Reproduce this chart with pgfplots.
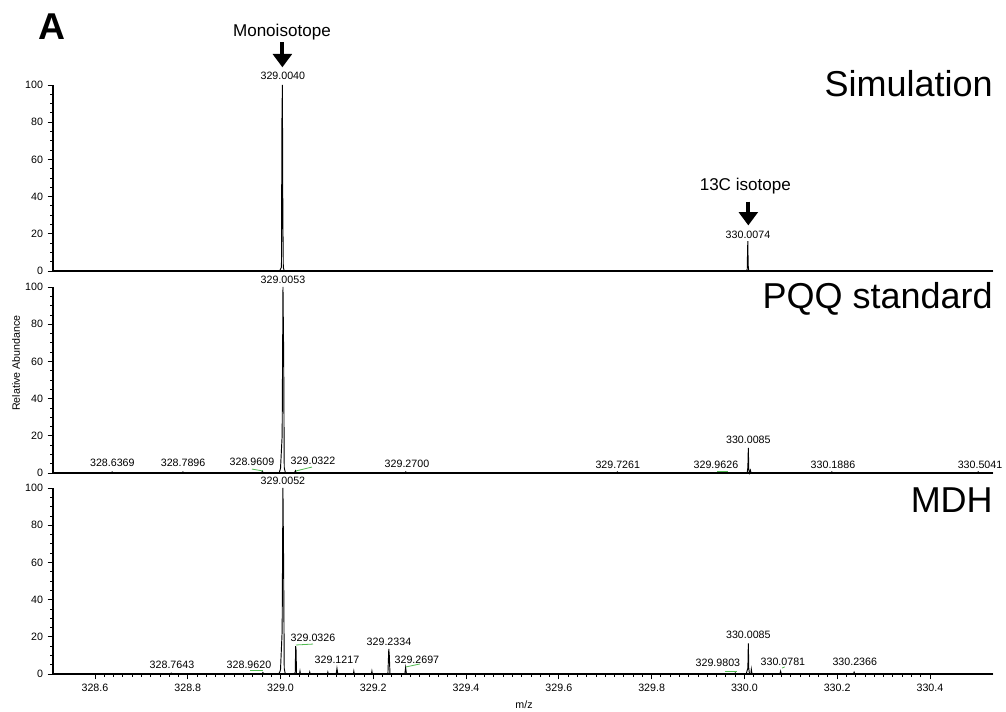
\documentclass[border=0pt]{standalone}
\usepackage{pgfplots}
\pgfplotsset{compat=1.18}
\usepackage{fontspec}
\setmainfont{Liberation Sans}
\usetikzlibrary{arrows.meta}
\definecolor{lg}{RGB}{80,185,80}
\pgfplotsset{
 spec/.style={
  scale only axis, width=705pt, height=139.5pt,
  xmin=328.5095, xmax=330.536, ymin=0, ymax=100,
  axis x line*=bottom, axis y line*=left,
  axis line style={line width=1.2pt},
  ytick={0,20,40,60,80,100}, minor y tick num=3,
  tick style={black, line width=0.6pt},
  tick align=outside,
  major tick length=4pt, minor tick length=2.2pt,
  clip=false,
  ticklabel style={font=\fontsize{8}{9}\selectfont},
  /pgf/number format/assume math mode=true,
 },
}
\tikzset{
 lbl/.style={font=\fontsize{8}{9}\selectfont, inner sep=0pt},
 big/.style={font=\fontsize{27}{30}\selectfont, inner sep=0pt, anchor=east},
 ann/.style={font=\fontsize{12.8}{14}\selectfont, inner sep=0pt},
}
\begin{document}
\begin{tikzpicture}
\useasboundingbox (0,0) rectangle (754.5pt,533.25pt);
% ---------------- Simulation ----------------
\begin{axis}[spec, at={(39.75pt,330pt)}, anchor=south west, xtick=\empty]
\addplot[black, line width=0.7pt] table {
328.5095 0
328.9980 0
329.0020 2
329.0030 80
329.0040 100
329.0050 30
329.0060 2
329.0080 0
330.0040 0
330.0062 1
330.0068 10
330.0074 16
330.0082 3
330.0095 0
330.5360 0
};
\node[lbl] at (axis cs:329.005,104.9) {329.0040};
\node[lbl] at (axis cs:330.0077,19.5) {330.0074};
\draw[-{Triangle[width=14pt,length=10pt]}, line width=3pt] (axis cs:329.004,123) -- (axis cs:329.004,109.5);
\node[ann] at (axis cs:329.003,128.6) {Monoisotope};
\draw[-{Triangle[width=14pt,length=10pt]}, line width=3pt] (axis cs:330.0085,37.3) -- (axis cs:330.0085,24.5);
\node[ann] at (axis cs:330.0020,45.4) {13C isotope};
\node[big] at (rel axis cs:1,1.005) {Simulation};
\end{axis}
% ---------------- PQQ standard ----------------
\begin{axis}[spec, at={(39.75pt,178.5pt)}, anchor=south west, xtick=\empty]
\addplot[black, line width=0.7pt] table {
328.5095 0
328.6350 0
328.6369 0.6
328.6390 0
328.7880 0
328.7896 0.6
328.7910 0
328.9590 0
328.9609 1
328.9630 0
328.9970 0
329.0000 2.5
329.0035 20
329.0053 100
329.0068 63
329.0080 3
329.0105 0
329.0300 0
329.0322 1.2
329.0340 0
329.2680 0
329.2700 0.6
329.2720 0
329.7240 0
329.7261 0.6
329.7280 0
329.9610 0
329.9626 0.6
329.9640 0
330.0060 0
330.0075 3
330.0085 13.5
330.0095 2
330.0110 0
330.0130 1.5
330.0145 0
330.1870 0
330.1886 0.6
330.1900 0
330.5020 0
330.5041 0.6
330.5060 0
330.5360 0
};
\node[lbl] at (axis cs:329.0053,103.7) {329.0053};
\node[lbl] at (axis cs:328.6375,5.3) {328.6369};
\node[lbl] at (axis cs:328.790,5.3) {328.7896};
\node[lbl] at (axis cs:328.9384,5.9) {328.9609};
\node[lbl] at (axis cs:329.070,6.4) {329.0322};
\node[lbl] at (axis cs:329.2726,4.8) {329.2700};
\node[lbl] at (axis cs:329.727,4.3) {329.7261};
\node[lbl] at (axis cs:329.9387,4.3) {329.9626};
\node[lbl] at (axis cs:330.0085,17.6) {330.0085};
\node[lbl] at (axis cs:330.191,4.3) {330.1886};
\node[lbl] at (axis cs:330.508,4.3) {330.5041};
\draw[lg, line width=0.6pt] (axis cs:328.9384,2.1) -- (axis cs:328.9621,1.1);
\draw[lg, line width=0.6pt] (axis cs:329.0333,1.1) -- (axis cs:329.0678,3.2);
\draw[lg, line width=0.6pt] (axis cs:329.9408,1.1) -- (axis cs:329.9645,1.1);
\node[big] at (rel axis cs:1,0.936) {PQQ standard};
\end{axis}
% ---------------- MDH ----------------
\begin{axis}[spec, at={(39.75pt,27.75pt)}, anchor=south west,
  xtick={328.6,328.8,329.0,329.2,329.4,329.6,329.8,330.0,330.2,330.4},
  xticklabels={328.6,328.8,329.0,329.2,329.4,329.6,329.8,330.0,330.2,330.4},
  minor x tick num=9]
\addplot[black, line width=0.7pt] table {
328.5095 0
328.7620 0
328.7643 0.5
328.7660 0
328.9600 0
328.9620 0.8
328.9640 0
328.9960 0
328.9990 1.5
329.0000 2.5
329.0035 23
329.0052 100
329.0067 59
329.0080 3
329.0095 1
329.0105 0
329.0300 0
329.0318 1
329.0326 15
329.0335 13
329.0345 0
329.0410 0
329.0420 1.5
329.0430 0
329.0620 0
329.0630 1
329.0640 0
329.1010 0
329.1020 1
329.1030 0
329.1200 0
329.1217 3
329.1235 0
329.1570 0
329.1580 1.5
329.1590 0
329.1960 0
329.1970 1.5
329.1980 0
329.2315 0
329.2334 13.5
329.2345 10
329.2360 0
329.2680 0
329.2697 3.5
329.2715 0
329.9790 0
329.9803 0.6
329.9815 0
330.0040 0
330.0060 2
330.0075 3
330.0085 16.5
330.0095 3
330.0110 0
330.0140 0
330.0150 2.5
330.0165 0
330.0765 0
330.0781 1.5
330.0795 0
330.2350 0
330.2366 1
330.2380 0
330.5360 0
};
\node[lbl] at (axis cs:329.0052,103.8) {329.0052};
\node[lbl] at (axis cs:328.766,4.8) {328.7643};
\node[lbl] at (axis cs:328.932,4.8) {328.9620};
\node[lbl] at (axis cs:329.070,19.4) {329.0326};
\node[lbl] at (axis cs:329.1217,7.5) {329.1217};
\node[lbl] at (axis cs:329.2338,17.2) {329.2334};
\node[lbl] at (axis cs:329.294,7.5) {329.2697};
\node[lbl] at (axis cs:329.943,6) {329.9803};
\node[lbl] at (axis cs:330.0085,21) {330.0085};
\node[lbl] at (axis cs:330.083,6.5) {330.0781};
\node[lbl] at (axis cs:330.238,6.5) {330.2366};
\draw[lg, line width=0.6pt] (axis cs:328.934,2.2) -- (axis cs:328.962,2.2);
\draw[lg, line width=0.6pt] (axis cs:329.033,15.6) -- (axis cs:329.070,16.1);
\draw[lg, line width=0.6pt] (axis cs:329.2704,3.8) -- (axis cs:329.3006,5.4);
\draw[lg, line width=0.6pt] (axis cs:329.958,1.6) -- (axis cs:329.984,1.6);
\draw[lg, line width=0.6pt] (axis cs:330.081,3.2) -- (axis cs:330.087,3.8);
\node[big] at (rel axis cs:1,0.935) {MDH};
\end{axis}
% ---------------- outer text ----------------
\node[font=\bfseries\fontsize{28}{30}\selectfont, inner sep=0pt] at (39pt,513pt) {A};
\node[font=\fontsize{8}{9}\selectfont, rotate=90, inner sep=0pt] at (12pt,261pt) {Relative Abundance};
\node[font=\fontsize{8}{9}\selectfont, inner sep=0pt] at (393pt,4.5pt) {m/z};
\end{tikzpicture}
\end{document}
